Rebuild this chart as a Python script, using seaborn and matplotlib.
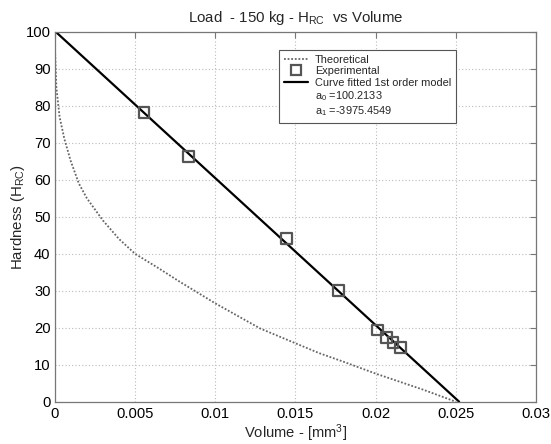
import numpy as np
import pandas as pd
import matplotlib
matplotlib.use("Agg")
import matplotlib.pyplot as plt
from matplotlib.lines import Line2D
import seaborn as sns

# ---- data ----
theo_x = [0, 0.0001, 0.0003, 0.0006, 0.001, 0.0015, 0.002, 0.003, 0.004, 0.005,
          0.0065, 0.0078, 0.01, 0.0128, 0.015, 0.0165, 0.018, 0.02, 0.0215, 0.023, 0.025]
theo_y = [97, 85, 77, 71, 65, 59, 55, 49, 44, 40,
          36, 32.4, 26.6, 19.8, 15.8, 13.1, 10.8, 7.6, 5.4, 3.2, 0]
exp_x = [0.00556, 0.00832, 0.01445, 0.01769, 0.02010, 0.02066, 0.02109, 0.02157]
exp_y = [78.2, 66.2, 44.2, 30.1, 19.4, 17.3, 16.0, 14.6]
a0 = 100.2133
a1 = -3975.4549
xticks = [0, 0.005, 0.01, 0.015, 0.02, 0.025, 0.03]
xticklabels = ["0", "0.005", "0.01", "0.015", "0.02", "0.025", "0.03"]
yticks = [0, 10, 20, 30, 40, 50, 60, 70, 80, 90, 100]

sns.set_style("white")
plt.rcParams["font.family"] = ["Liberation Sans", "DejaVu Sans"]
plt.rcParams["mathtext.fontset"] = "custom"
plt.rcParams["mathtext.rm"] = "Liberation Sans"
plt.rcParams["mathtext.it"] = "Liberation Sans"
plt.rcParams["mathtext.default"] = "regular"

fig = plt.figure(figsize=(5.51, 4.44), dpi=100)
ax_l, ax_r, ax_t, ax_b = 54.75, 536.0, 31.7, 401.7
ax = fig.add_axes([ax_l / 551, 1 - ax_b / 444, (ax_r - ax_l) / 551, (ax_b - ax_t) / 444])
W, H = ax_r - ax_l, ax_b - ax_t

df_theo = pd.DataFrame({"x": theo_x, "y": theo_y})
df_exp = pd.DataFrame({"x": exp_x, "y": exp_y})
fit_x = [0.0, -a0 / a1]
df_fit = pd.DataFrame({"x": fit_x, "y": [a0 + a1 * v for v in fit_x]})

sns.lineplot(data=df_theo, x="x", y="y", ax=ax, sort=False, color="#666666",
             linestyle=(0, (1, 1)), linewidth=1.3)
sns.lineplot(data=df_fit, x="x", y="y", ax=ax, sort=False, color="black",
             linewidth=1.6)
sns.scatterplot(data=df_exp, x="x", y="y", ax=ax, marker="s", s=60,
                facecolor="none", edgecolor="#555555", linewidth=1.6, zorder=5)

ax.set_xlim(0, 0.03)
ax.set_ylim(0, 100)
ax.set_xticks(xticks)
ax.set_xticklabels(xticklabels)
ax.set_yticks(yticks)
ax.grid(True, color="#bbbbbb", linestyle=(0, (1, 2)), linewidth=0.8)
ax.tick_params(direction="in", top=True, right=True, length=4, color="#777777",
               labelsize=10.6, labelcolor="black", width=0.8)
ax.tick_params(axis="x", pad=4)
ax.tick_params(axis="y", pad=3)
for s in ax.spines.values():
    s.set_color("#777777")
    s.set_linewidth(0.9)

ax.set_title("Load  - 150 kg - H$_{RC}$  vs Volume", fontsize=10.8, pad=7)
ax.set_xlabel("Volume - [mm$^{3}$]", fontsize=10.6)
ax.xaxis.set_label_coords(0.5, (ax_b - 422.5) / H)
ax.set_ylabel("Hardness (H$_{RC}$)", fontsize=10.8)
ax.yaxis.set_label_coords((27 - ax_l) / W, 0.5)

handles = [
    Line2D([], [], color="#666666", linestyle=(0, (1, 1)), linewidth=1.3),
    Line2D([], [], color="#555555", marker="s", markersize=7, markerfacecolor="none",
           markeredgewidth=1.6, linestyle="none"),
    Line2D([], [], color="black", linewidth=1.6),
    Line2D([], [], color="none"),
    Line2D([], [], color="none"),
]
labels = ["Theoretical", "Experimental", "Curve fitted 1st order model",
          "a$_{0}$ =100.2133", "a$_{1}$ =-3975.4549"]
leg = ax.legend(handles, labels, loc="upper left",
                bbox_to_anchor=((279 - ax_l) / W, (ax_b - 50) / H),
                fontsize=7.9, frameon=True, fancybox=False, framealpha=1,
                edgecolor="#555555", handlelength=2.2, handletextpad=0.6,
                labelspacing=0.12, borderpad=0.45, borderaxespad=0)
leg.get_frame().set_linewidth(0.8)

fig.savefig("out.png", dpi=100)
